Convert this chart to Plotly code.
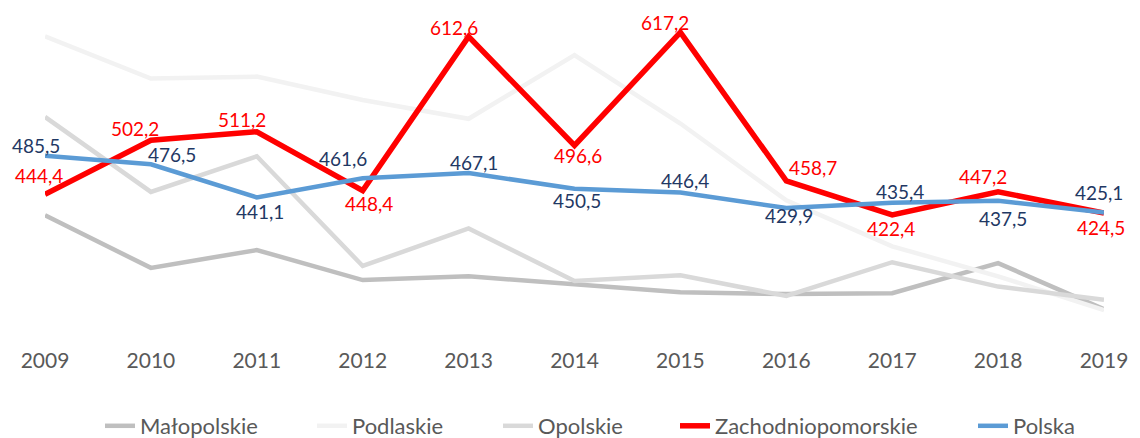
import plotly.graph_objects as go

years = [2009, 2010, 2011, 2012, 2013, 2014, 2015, 2016, 2017, 2018, 2019]
tick_labels = [str(y) for y in years]

malopolskie = [422, 366, 385, 353, 357, 349, 340, 338, 339, 371, 322]
podlaskie = [613, 568, 570, 545, 525, 593, 520, 438, 389, 357, 321]
opolskie = [527, 447, 485, 368, 408, 352, 358, 336, 372, 346, 332]
zachodniopomorskie = [444.4, 502.2, 511.2, 448.4, 612.6, 496.6, 617.2, 458.7, 422.4, 447.2, 424.5]
polska = [485.5, 476.5, 441.1, 461.6, 467.1, 450.5, 446.4, 429.9, 435.4, 437.5, 425.1]

FONT = "Lato"
W, H = 1132, 430  # page body has an 8px margin at top/left

# label offsets in px (dx right, dy up) relative to each point
red_dx = [-6, -16, -15, 6, -15, 3, -15, 27, -1, -15, -3]
red_dy = [19, 12, 12, -13, 9, -10, 10, 13, -14, 15, -14]
pl_dx = [-9, 21, 3, -20, 5, 2, 5, 3, 8, 5, -5]
pl_dy = [10, 10, -14, 20, 11, -12, 12, -8, 11, -18, 20]

series = [
    ("Małopolskie", malopolskie, "#BFBFBF", 4.5),
    ("Podlaskie", podlaskie, "#F2F2F2", 4.5),
    ("Opolskie", opolskie, "#D9D9D9", 4.5),
]
legend_text_x = [134, 346, 532, 709, 1007]

fig = go.Figure()
for i, (name, vals, col, w) in enumerate(series):
    fig.add_trace(go.Scatter(x=years, y=vals, name=name, mode="lines",
                             line=dict(color=col, width=w),
                             legend="legend" if i == 0 else f"legend{i+1}"))
fig.add_trace(go.Scatter(x=years, y=zachodniopomorskie, name="Zachodniopomorskie",
                         mode="lines", line=dict(color="#FF0000", width=5.5),
                         legend="legend4"))
fig.add_trace(go.Scatter(x=years, y=polska, name="Polska",
                         mode="lines", line=dict(color="#5B9BD5", width=4.5),
                         legend="legend5"))


def fmt(v):
    return f"{v:.1f}".replace(".", ",")


annotations = []
for vals, dxs, dys, col in [(zachodniopomorskie, red_dx, red_dy, "#FF0000"),
                            (polska, pl_dx, pl_dy, "#1F3864")]:
    for x, y, dx, dy in zip(years, vals, dxs, dys):
        annotations.append(dict(x=x, y=y, xref="x", yref="y", text=fmt(y),
                                showarrow=False, xanchor="center", yanchor="middle",
                                xshift=dx, yshift=dy,
                                font=dict(family=FONT, size=19, color=col)))

legend_common = dict(orientation="h", xanchor="left", xref="container",
                     y=(H - 418) / H, yanchor="middle", yref="container",
                     font=dict(family=FONT, size=22, color="#595959"),
                     bgcolor="rgba(0,0,0,0)", borderwidth=0)
legends = {}
for i, tx in enumerate(legend_text_x):
    key = "legend" if i == 0 else f"legend{i+1}"
    legends[key] = dict(legend_common, x=(tx - 42) / W)

fig.update_layout(
    width=W, height=H,
    margin=dict(l=37, r=27, t=12, b=108),
    paper_bgcolor="white", plot_bgcolor="white",
    font=dict(family=FONT, color="#595959"),
    xaxis=dict(range=[2009, 2019], tickvals=years, ticktext=tick_labels,
               showgrid=False, zeroline=False, showline=False,
               tickfont=dict(family=FONT, size=21, color="#595959"),
               ticklabelstandoff=16),
    yaxis=dict(range=[299.7, 630.4], visible=False),
    showlegend=True,
    annotations=annotations,
    **legends,
)

fig.write_html("out.html")
